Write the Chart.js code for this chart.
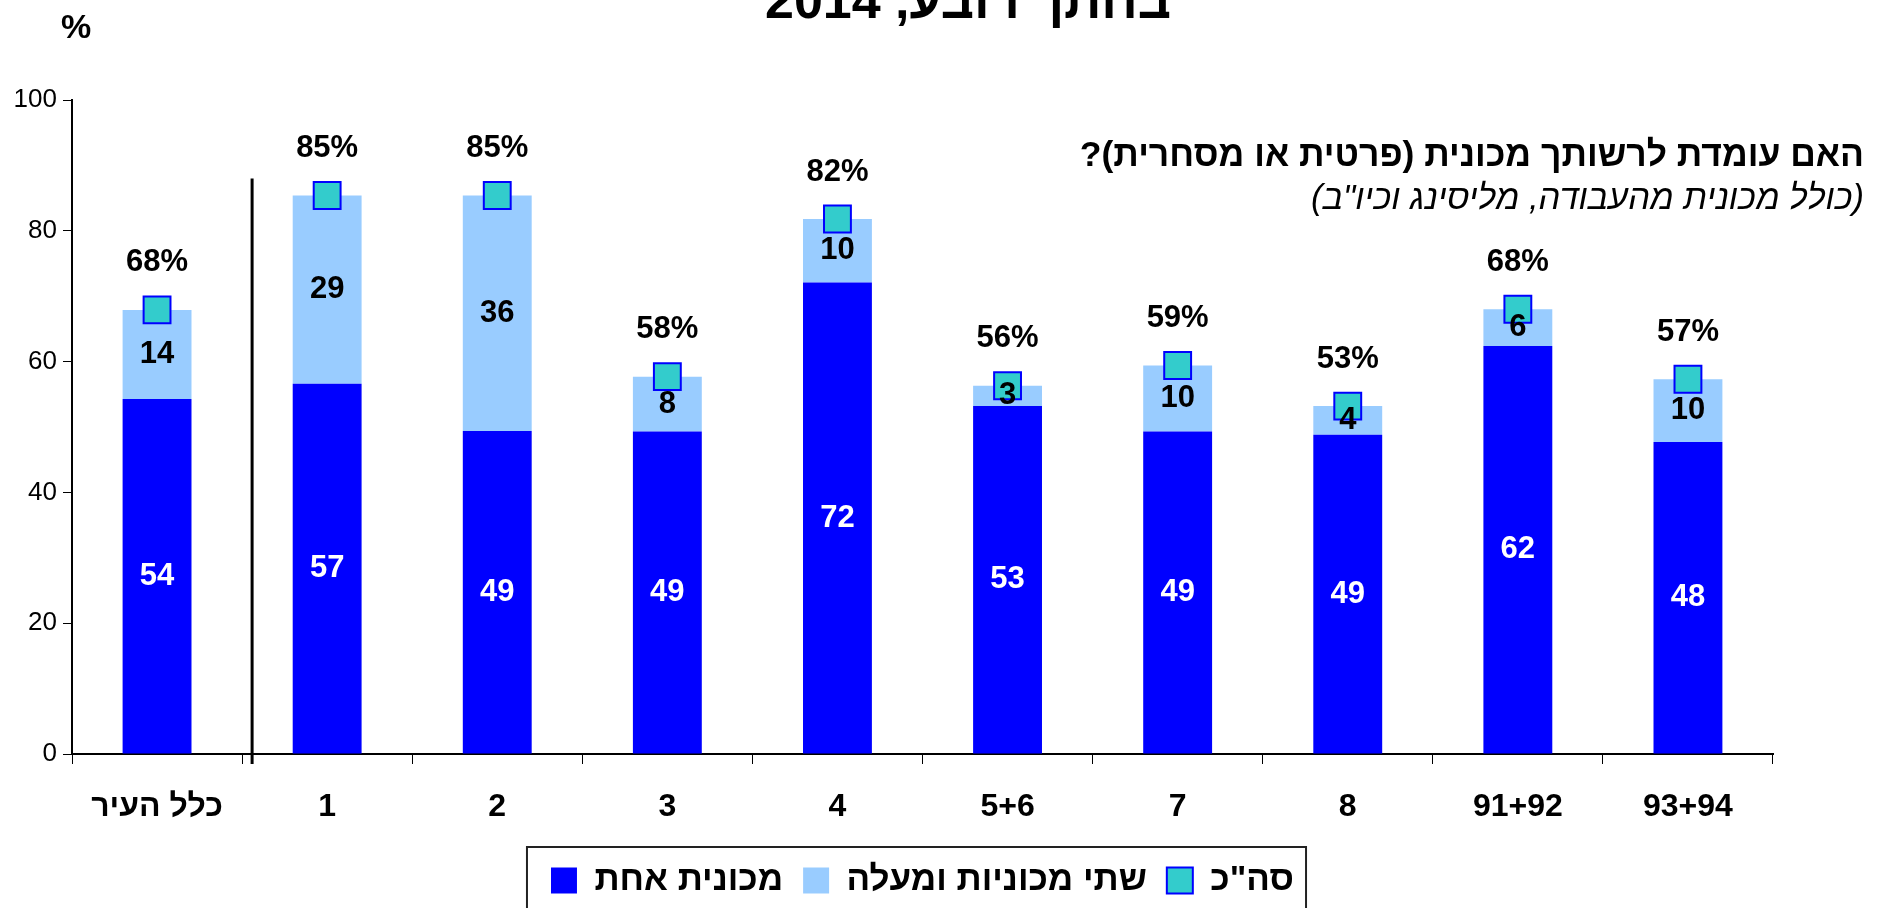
<!DOCTYPE html>
<html lang="he">
<head>
<meta charset="utf-8">
<title>מכונית לרשות משק הבית</title>
<script src="https://cdn.jsdelivr.net/npm/chart.js@4.4.1/dist/chart.umd.min.js"></script>
<style>
  html, body { margin: 0; padding: 0; background: #fff; }
  #wrap { width: 1887px; height: 908px; }
</style>
</head>
<body>
<div id="wrap"><canvas id="carChart" width="1887" height="908"></canvas></div>
<script>
// ============================== DATA ==============================

const districts = ["כלל העיר", "1", "2", "3", "4", "5+6", "7", "8", "91+92", "93+94"];
const oneCar = [54.3, 56.6, 49.4, 49.3, 72.1, 53.2, 49.3, 48.8, 62.4, 47.7];
const twoPlus = [13.6, 28.8, 36.0, 8.4, 9.7, 3.1, 10.1, 4.4, 5.6, 9.6];
const totalCars = [67.9, 85.4, 85.4, 57.7, 81.8, 56.3, 59.4, 53.2, 68.0, 57.3];
const yTicks = [0, 20, 40, 60, 80, 100];
const seriesNames = ["מכונית אחת", "שתי מכוניות ומעלה", "סה\"כ"];

const titleText = "בחתך רובע, 2014";
const unitText = "%";
const questionLines = [
  "האם עומדת לרשותך מכונית (פרטית או מסחרית)?",
  "(כולל מכונית מהעבודה, מליסינג וכיו\"ב)",
];

const FONT = "'Liberation Sans', Arial, sans-serif";

// ============================== PLUGINS ==============================

// numbers on the bars and above the total markers
const valueLabels = {
  id: "valueLabels",
  afterDatasetsDraw(chart) {
    const ctx = chart.ctx;
    ctx.save();
    ctx.font = `bold 31px ${FONT}`;
    ctx.textAlign = "center";
    ctx.textBaseline = "middle";

    chart.getDatasetMeta(0).data.forEach((bar, i) => {
      ctx.fillStyle = "#fff";
      ctx.fillText(Math.round(oneCar[i]), bar.x, (bar.y + bar.base) / 2);
    });
    ctx.fillStyle = "#000";
    chart.getDatasetMeta(1).data.forEach((bar, i) => {
      ctx.fillText(Math.round(twoPlus[i]), bar.x, (bar.y + bar.base) / 2);
    });
    chart.getDatasetMeta(2).data.forEach((pt, i) => {
      ctx.fillText(Math.round(totalCars[i]) + "%", pt.x, pt.y - 47);
    });
    ctx.restore();
  },
};

// separator line, legend frame, title and question text
const decorations = {
  id: "decorations",
  afterDraw(chart) {
    const { ctx, chartArea } = chart;
    const x = chart.scales.x;
    const y = chart.scales.y;
    ctx.save();

    // line between the city total and the districts
    const sx = (x.getPixelForValue(0) + x.getPixelForValue(1)) / 2 + 10;
    ctx.strokeStyle = "#000";
    ctx.lineWidth = 3;
    ctx.beginPath();
    ctx.moveTo(sx, y.getPixelForValue(88));
    ctx.lineTo(sx, chartArea.bottom + 10);
    ctx.stroke();

    // legend frame
    const boxes = chart.legend.legendHitBoxes;
    const left = Math.min(...boxes.map((b) => b.left)) - 24;
    const right = Math.max(...boxes.map((b) => b.left + b.width)) + 12;
    const top = boxes[0].top - 16;
    ctx.lineWidth = 2;
    ctx.strokeStyle = "#222";
    ctx.strokeRect(left, top, right - left, 100);

    // texts
    ctx.fillStyle = "#000";
    ctx.textBaseline = "alphabetic";
    ctx.direction = "rtl";

    ctx.font = `bold 52px ${FONT}`;
    ctx.textAlign = "center";
    ctx.fillText(titleText, 968, 18);

    ctx.font = `bold 34px ${FONT}`;
    ctx.fillText(unitText, 76, 38);

    ctx.textAlign = "right";
    ctx.font = `bold 35.5px ${FONT}`;
    ctx.fillText(questionLines[0], 1864, 166);
    ctx.font = `italic 34.5px ${FONT}`;
    ctx.fillText(questionLines[1], 1864, 209);

    ctx.restore();
  },
};

// ============================== CHART ==============================

const ctx = document.getElementById("carChart").getContext("2d");
new Chart(ctx, {
  type: "bar",
  data: {
    labels: districts,
    datasets: [
      {
        label: seriesNames[0],
        data: oneCar,
        backgroundColor: "#0000FF",
        borderWidth: 0,
        order: 1,
      },
      {
        label: seriesNames[1],
        data: twoPlus,
        backgroundColor: "#99CCFF",
        borderWidth: 0,
        order: 1,
      },
      {
        type: "line",
        label: seriesNames[2],
        data: totalCars,
        stack: "total",
        order: 0,
        showLine: false,
        pointStyle: "rect",
        pointRadius: 19,
        pointHoverRadius: 19,
        backgroundColor: "#33CCCC",
        borderColor: "#0000FF",
        borderWidth: 2,
        pointBackgroundColor: "#33CCCC",
        pointBorderColor: "#0000FF",
        pointBorderWidth: 2,
      },
    ],
  },
  options: {
    responsive: false,
    animation: false,
    devicePixelRatio: 1,
    layout: { padding: { left: 0, right: 114, top: 100, bottom: 0 } },
    datasets: {
      bar: { barPercentage: 0.405, categoryPercentage: 1 },
    },
    scales: {
      x: {
        stacked: true,
        ticks: {
          font: { family: FONT, size: 32, weight: "bold" },
          color: "#000",
          padding: 24,
          maxRotation: 0,
          autoSkip: false,
        },
        grid: {
          drawOnChartArea: false,
          tickLength: 10,
          color: "#000",
          lineWidth: 1,
          offset: true,
        },
        border: { color: "#000", width: 2 },
        afterFit: (s) => {
          s.height = 89;
        },
      },
      y: {
        stacked: true,
        min: 0,
        max: 100,
        afterBuildTicks: (s) => {
          s.ticks = yTicks.map((v) => ({ value: v }));
        },
        ticks: {
          font: { family: FONT, size: 26 },
          color: "#000",
          padding: 6,
        },
        grid: {
          drawOnChartArea: false,
          tickLength: 9,
          color: "#000",
          lineWidth: 1,
        },
        border: { color: "#000", width: 2 },
        afterFit: (s) => {
          s.width = 72;
        },
      },
    },
    plugins: {
      tooltip: { enabled: false },
      title: { display: false },
      legend: {
        position: "bottom",
        fullSize: false,
        labels: {
          font: { family: FONT, size: 35, weight: "bold" },
          color: "#000",
          boxWidth: 26,
          boxHeight: 26,
          padding: 20,
          sort: (a, b) => a.datasetIndex - b.datasetIndex,
        },
      },
    },
  },
  plugins: [valueLabels, decorations],
});
</script>
</body>
</html>
